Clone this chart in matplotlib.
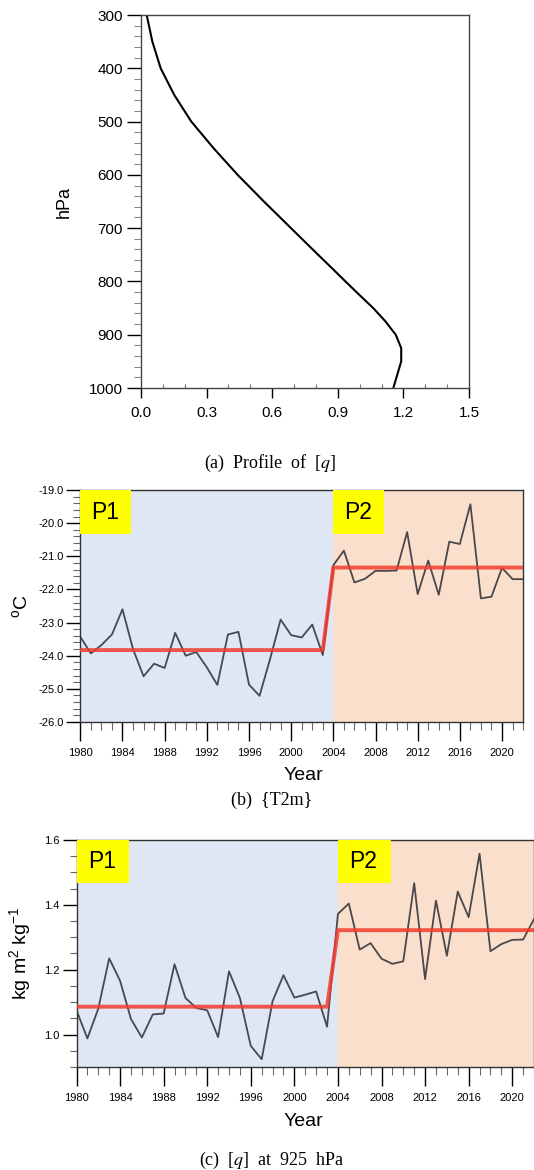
import numpy as np
import matplotlib
matplotlib.use("Agg")
import matplotlib.pyplot as plt
from matplotlib.ticker import MultipleLocator, FormatStrFormatter

plt.rcParams['font.family'] = ['Liberation Sans', 'DejaVu Sans']
plt.rcParams['mathtext.fontset'] = 'stix'

# (a) profile of [q]
levels = [300, 350, 400, 450, 500, 550, 600, 650, 700, 750, 775, 800, 825,
          850, 875, 900, 925, 950, 975, 1000]
q_prof = [0.026, 0.052, 0.09, 0.152, 0.23, 0.332, 0.442, 0.562, 0.686, 0.81,
          0.873, 0.935, 0.998, 1.062, 1.118, 1.165, 1.19, 1.19, 1.172, 1.154]

# (b) T2m, (c) [q] at 925 hPa
years = list(range(1980, 2023))
t2m = [-23.43, -23.93, -23.68, -23.36, -22.60, -23.80, -24.62, -24.24, -24.37,
       -23.31, -24.00, -23.89, -24.35, -24.88, -23.36, -23.28, -24.87, -25.21,
       -24.10, -22.91, -23.38, -23.45, -23.06, -23.98,
       -21.27, -20.83, -21.79, -21.68, -21.44, -21.44, -21.43, -20.27, -22.14,
       -21.13, -22.16, -20.56, -20.63, -19.43, -22.27, -22.22, -21.35, -21.69,
       -21.69]
q925 = [1.075, 0.988, 1.080, 1.235, 1.166, 1.048, 0.991, 1.062, 1.065, 1.217,
        1.113, 1.082, 1.075, 0.992, 1.195, 1.113, 0.965, 0.924, 1.103, 1.183,
        1.114, 1.123, 1.133, 1.024,
        1.372, 1.404, 1.262, 1.282, 1.234, 1.218, 1.226, 1.467, 1.171, 1.413,
        1.243, 1.441, 1.362, 1.558, 1.257, 1.279, 1.292, 1.293, 1.356]
t2m_means = [-23.83, -21.34]
q_means = [1.086, 1.322]
split_year = 2004

W, H = 534, 1170
fig = plt.figure(figsize=(W / 100, H / 100), dpi=100)


def box(l, r, t, b):
    return [l / W, 1 - b / H, (r - l) / W, (b - t) / H]


narrow = ['Liberation Sans Narrow', 'Liberation Sans', 'DejaVu Sans']

# ---- panel (a)
ax = fig.add_axes(box(141, 469, 15, 388))
ax.plot(q_prof, levels, color='black', lw=1.5)
ax.set_xlim(0, 1.5)
ax.set_ylim(1000, 300)
ax.xaxis.set_major_locator(MultipleLocator(0.3))
ax.xaxis.set_minor_locator(MultipleLocator(0.1))
ax.xaxis.set_major_formatter(FormatStrFormatter('%.1f'))
ax.yaxis.set_major_locator(MultipleLocator(100))
ax.yaxis.set_minor_locator(MultipleLocator(20))
ax.tick_params(axis='x', which='major', direction='out', length=7, width=1,
               labelsize=11, pad=6)
ax.tick_params(axis='x', which='minor', direction='in', length=3, width=0.8,
               color='#777777')
ax.tick_params(axis='y', which='major', direction='out', length=10, width=1,
               labelsize=11, pad=3)
ax.tick_params(axis='y', which='minor', direction='out', length=5, width=0.8,
               color='#888888')
ax.set_ylabel('hPa', fontsize=13, labelpad=12)
for s in ax.spines.values():
    s.set_linewidth(1.0)
    s.set_color('#444444')
fig.text(270 / W, 1 - 463 / H, r'(a)  Profile  of  [$q$]', ha='center',
         va='center', fontsize=13, family='Liberation Serif')


def series_panel(rect, vals, means, ylim, ymaj, ymin, yfmt, ylabel, ylabpad,
                 xlab_y, cap_y, caption):
    ax = fig.add_axes(rect)
    ax.axvspan(years[0], split_year, color='#dfe6f4', lw=0, zorder=0)
    ax.axvspan(split_year, years[-1], color='#f9dfcc', lw=0, zorder=0)
    ax.plot(years, vals, color='#1e222b', alpha=0.8, lw=1.3, zorder=2)
    ax.plot([years[0], split_year - 1, split_year, years[-1]],
            [means[0], means[0], means[1], means[1]],
            color='#f23c2c', alpha=0.85, lw=2.8, zorder=3)
    ax.set_xlim(years[0], years[-1])
    ax.set_ylim(*ylim)
    # yellow period labels
    for x0, lab in [(years[0], 'P1'), (split_year, 'P2')]:
        xa = (x0 - years[0]) / (years[-1] - years[0])
        ax.add_patch(plt.Rectangle((xa, 0.81), 0.115, 0.19,
                                   transform=ax.transAxes, color='#ffff00',
                                   lw=0, zorder=4))
        ax.text(xa + 0.056, 0.905, lab, transform=ax.transAxes, ha='center',
                va='center', fontsize=16.5, zorder=5)
    ax.xaxis.set_major_locator(MultipleLocator(4))
    ax.xaxis.set_minor_locator(MultipleLocator(1))
    ax.yaxis.set_major_locator(MultipleLocator(ymaj))
    ax.yaxis.set_minor_locator(MultipleLocator(ymin))
    ax.yaxis.set_major_formatter(FormatStrFormatter(yfmt))
    ax.tick_params(axis='x', which='major', direction='out', length=14,
                   width=1, labelsize=8, pad=5)
    ax.tick_params(axis='x', which='minor', direction='out', length=6,
                   width=0.8, color='#666666')
    ax.tick_params(axis='y', which='major', direction='out', length=10,
                   width=1, labelsize=8, pad=2)
    ax.tick_params(axis='y', which='minor', direction='out', length=5,
                   width=0.8, color='#666666')
    for lab in ax.get_xticklabels() + ax.get_yticklabels():
        lab.set_family(narrow)
    for s in ax.spines.values():
        s.set_linewidth(1.0)
        s.set_color('#333333')
    ax.set_ylabel(ylabel, fontsize=14, labelpad=ylabpad)
    fig.text(303 / W, 1 - xlab_y / H, 'Year', ha='center', va='center',
             fontsize=14, family=narrow)
    fig.text(272 / W, 1 - cap_y / H, caption, ha='center', va='center',
             fontsize=13, family='Liberation Serif')
    return ax


series_panel(box(80.3, 523.1, 490, 722), t2m, t2m_means, (-26, -19), 1.0, 0.2,
             '%.1f', '$\\mathregular{^o}$C', 5, 775, 800, '(b)  {T2m}')
series_panel(box(76.5, 534, 840, 1067), q925, q_means, (0.9, 1.6), 0.2, 0.05,
             '%.1f', 'kg m$\\mathregular{^2}$ kg$\\mathregular{^{-1}}$', 8,
             1122, 1160, r'(c)  [$q$]  at  925  hPa')

fig.savefig('out.png', dpi=100)
